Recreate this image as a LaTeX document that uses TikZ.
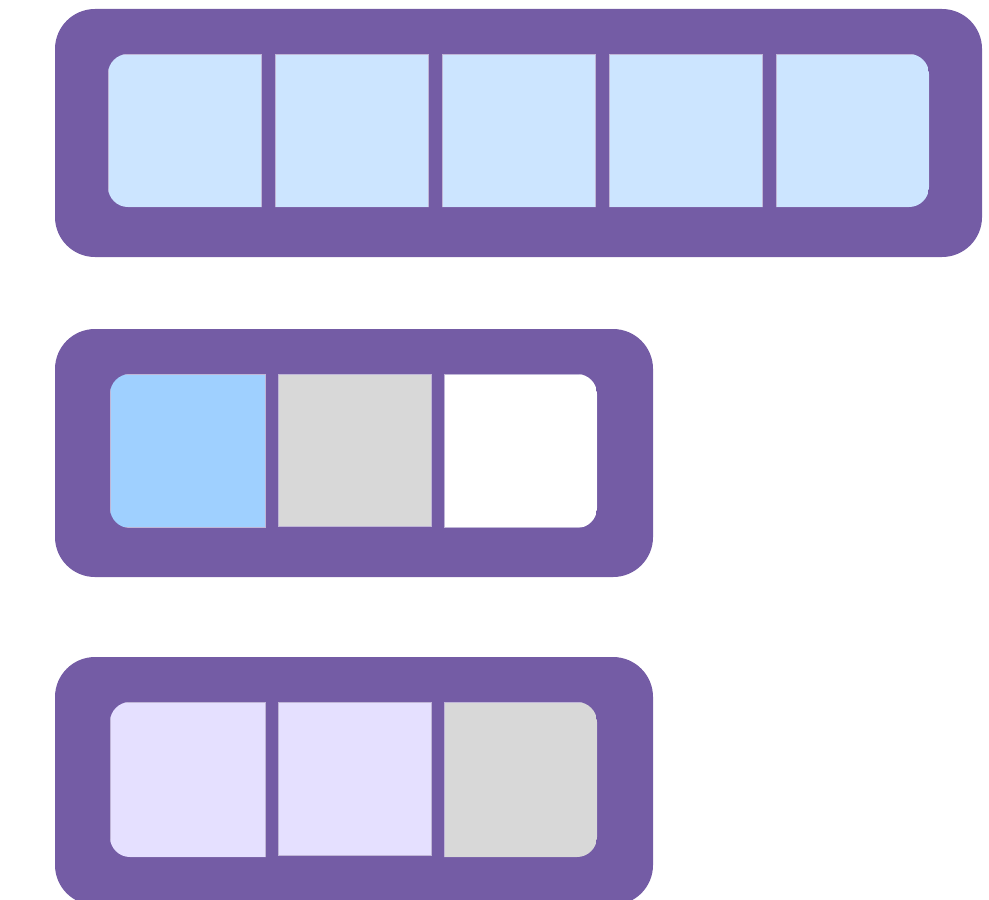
\documentclass[tikz,border=0pt]{standalone}
\usetikzlibrary{positioning}
\definecolor{barPurple}{HTML}{745CA5}
\definecolor{paleBlue}{HTML}{CCE5FF}
\definecolor{skyBlue}{HTML}{9FD0FF}
\definecolor{paleGray}{HTML}{D8D8D8}
\definecolor{paleViolet}{HTML}{E5E0FF}
\tikzset{
  bar/.style={rectangle, rounded corners=8mm, fill=barPurple, inner sep=0pt, outer sep=0pt,
              minimum height=49.6mm, anchor=north west},
  cellbox/.style={rectangle, draw=barPurple!45!white, line width=0.4pt, inner sep=0pt,
                  outer sep=0pt, minimum width=30.6mm, minimum height=30.6mm, anchor=north west},
  slot/.style={rounded corners=4mm}
}

\begin{document}
\begin{tikzpicture}[x=0.2mm, y=-0.2mm]
\useasboundingbox (0,0) rectangle (989,899);
% bars
\node[bar, minimum width=185.4mm] (topbar) at (55,9) {};
\node[bar, minimum width=119.6mm, below=14.4mm of topbar.south west, anchor=north west] (midbar) {};
\node[bar, minimum width=119.6mm, below=16mm of midbar.south west, anchor=north west] (lowbar) {};
% top row
\begin{scope}
\clip[slot] (108,54) rectangle (929,207);
\foreach \i in {0,...,4}
  \node[cellbox, fill=paleBlue] (top\i) at ({108+167*\i},54) {};
\end{scope}
% middle row
\begin{scope}
\clip[slot] (110,374) rectangle (597,528);
\node[cellbox, fill=skyBlue, minimum width=31mm] (mid0) at (110,374) {};
\node[cellbox, fill=paleGray, minimum height=30.4mm] (mid1) at (278,374) {};
\node[cellbox, fill=white] (mid2) at (444,374) {};
\end{scope}
% bottom row
\begin{scope}
\clip[slot] (110,702) rectangle (597,857);
\node[cellbox, fill=paleViolet, minimum width=31mm, minimum height=31mm] (low0) at (110,702) {};
\node[cellbox, fill=paleViolet, minimum height=30.6mm] (low1) at (278,702) {};
\node[cellbox, fill=paleGray, minimum height=31mm] (low2) at (444,702) {};
\end{scope}
\end{tikzpicture}
\end{document}
